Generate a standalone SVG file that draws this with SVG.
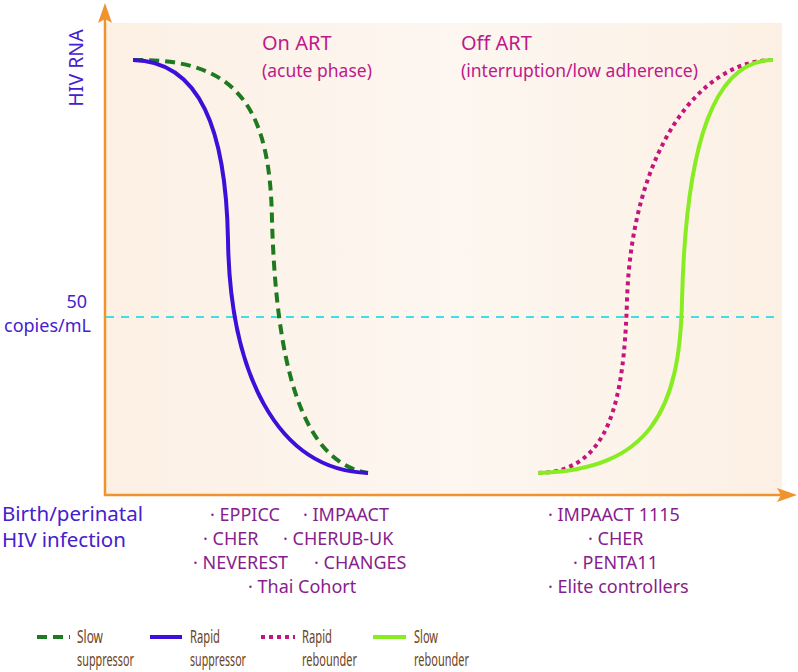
<svg xmlns="http://www.w3.org/2000/svg" width="798" height="672" viewBox="0 0 798 672">
<defs>
<linearGradient id="gl" x1="0" y1="0" x2="1" y2="0">
<stop offset="0" stop-color="#fcf0e4"/><stop offset="1" stop-color="#fdf6f0"/>
</linearGradient>
<linearGradient id="gr" x1="0" y1="0" x2="1" y2="0">
<stop offset="0" stop-color="#fdf7f1"/><stop offset="1" stop-color="#fcf0e4"/>
</linearGradient>
<style>
.t{font-family:"Noto Sans","Open Sans","DejaVu Sans",sans-serif}
.ax{stroke:#f0922e;stroke-width:2.5;fill:none}
.ah{fill:#f0922e}
.blue{fill:#4520d0}
.mag{fill:#c0198a}
.pur{fill:#861e8c}
.leg{font-family:"Noto Sans","DejaVu Sans",sans-serif;fill:#6b4423;font-size:18px}
.gs{stroke:#1e7a1e;stroke-width:4;fill:none;stroke-dasharray:10 6}
.bs{stroke:#3c10d8;stroke-width:4;fill:none}
.pr{stroke:#c4157c;stroke-width:4;fill:none;stroke-dasharray:4 4}
.lr{stroke:#88ec22;stroke-width:4;fill:none}
</style>
</defs>
<g id="background">
<rect x="105" y="23" width="336" height="472" fill="url(#gl)"/>
<rect x="441" y="23" width="341" height="472" fill="url(#gr)"/>
</g>
<g id="axes">
<line class="ax" x1="105" y1="496" x2="105" y2="18"/>
<polygon class="ah" points="105,3 98,23 105,19 112,23"/>
<line class="ax" x1="104" y1="495" x2="782" y2="495"/>
<polygon class="ah" points="797,495 777,488 781,495 777,502"/>
</g>
<g id="threshold">
<line x1="106" y1="317" x2="774" y2="317" stroke="#3ce0e6" stroke-width="2" stroke-dasharray="8 7"/>
</g>
<g id="curves">
<path id="slow-suppressor" class="gs" d="M133,60 C240,58 270,110 272,220 C276,360 300,462 368,473"/>
<path id="rapid-suppressor" class="bs" d="M133,60 C200,61 226,130 228,240 C230,370 275,470 368,473"/>
<path id="rapid-rebounder" class="pr" d="M538,473 C610,472 624,400 627,300 C632,150 700,60 773,60"/>
<path id="slow-rebounder" class="lr" d="M538,473 C650,470 680,410 682,300 C686,140 715,60 773,60"/>
</g>
<g id="labels">
<text class="t blue" font-size="19.5" transform="translate(83,68) rotate(-90)" text-anchor="middle">HIV RNA</text>
<text class="t mag" x="262" y="50" font-size="20">On ART</text>
<text class="t mag" x="262" y="77" font-size="17.5">(acute phase)</text>
<text class="t mag" x="461" y="50" font-size="20">Off ART</text>
<text class="t mag" x="461" y="77" font-size="17.5">(interruption/low adherence)</text>
<text class="t blue" x="87" y="308" font-size="18" text-anchor="end">50</text>
<text class="t blue" x="91" y="332" font-size="18" text-anchor="end">copies/mL</text>
<text class="t blue" x="2" y="521" font-size="20.5">Birth/perinatal</text>
<text class="t blue" x="2" y="547" font-size="20.5">HIV infection</text>
</g>
<g id="on-art-studies" class="t pur" font-size="18">
<text x="210" y="521">· EPPICC</text>
<text x="303" y="521">· IMPAACT</text>
<text x="203" y="545">· CHER</text>
<text x="283" y="545">· CHERUB-UK</text>
<text x="193" y="569">· NEVEREST</text>
<text x="314" y="569">· CHANGES</text>
<text x="248" y="593">· Thai Cohort</text>
</g>
<g id="off-art-studies" class="t pur" font-size="18">
<text x="548" y="521">· IMPAACT 1115</text>
<text x="588" y="545">· CHER</text>
<text x="573" y="569">· PENTA11</text>
<text x="548" y="593">· Elite controllers</text>
</g>
<g id="legend">
<line class="gs" x1="37" y1="637" x2="70" y2="637" stroke-dasharray="8 4"/>
<text class="leg" x="77" y="643" textLength="26" lengthAdjust="spacingAndGlyphs">Slow</text>
<text class="leg" x="77" y="666" textLength="57" lengthAdjust="spacingAndGlyphs">suppressor</text>
<line class="bs" x1="150" y1="637" x2="182" y2="637"/>
<text class="leg" x="190" y="643" textLength="30" lengthAdjust="spacingAndGlyphs">Rapid</text>
<text class="leg" x="190" y="666" textLength="56" lengthAdjust="spacingAndGlyphs">suppressor</text>
<line class="pr" x1="261" y1="637" x2="295" y2="637" stroke-dasharray="3.5 3.5"/>
<text class="leg" x="302" y="643" textLength="30" lengthAdjust="spacingAndGlyphs">Rapid</text>
<text class="leg" x="302" y="666" textLength="55" lengthAdjust="spacingAndGlyphs">rebounder</text>
<line class="lr" x1="373" y1="637" x2="406" y2="637"/>
<text class="leg" x="414" y="643" textLength="24" lengthAdjust="spacingAndGlyphs">Slow</text>
<text class="leg" x="414" y="666" textLength="55" lengthAdjust="spacingAndGlyphs">rebounder</text>
</g>
</svg>
